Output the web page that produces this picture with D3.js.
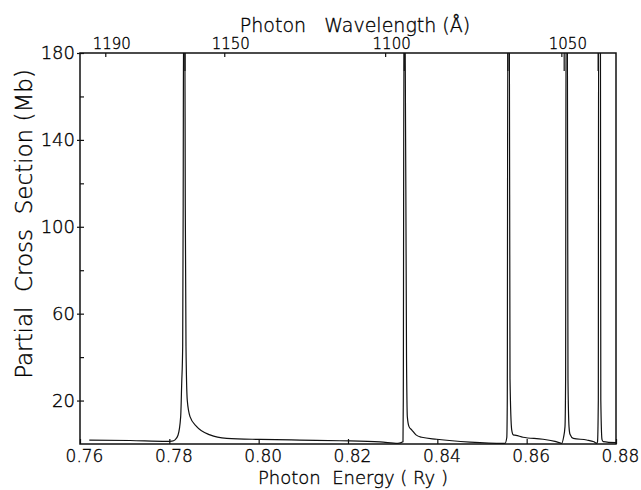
<!DOCTYPE html>
<html>
<head>
<meta charset="utf-8">
<script src="https://cdn.jsdelivr.net/npm/d3@7"></script>
<style>
body { margin: 0; background: #fff; }
text { font-family: "DejaVu Sans", sans-serif; font-weight: 200; fill: #000; stroke: #000; stroke-width: 0.35; }
</style>
</head>
<body>
<div id="chart"></div>
<script>
// photon energy (Ry) and partial cross section (Mb)
var energy = [0.76208, 0.77119, 0.77941, 0.78060, 0.78127, 0.78194, 0.78254, 0.78277, 0.78299, 0.78310, 0.78319,
    0.78346, 0.78357, 0.78373, 0.78402, 0.78463, 0.78613, 0.78910, 0.79284, 0.80030, 0.80925, 0.81821, 0.82716,
    0.83119, 0.83231, 0.83238, 0.83254, 0.83276, 0.83310, 0.83328, 0.83366, 0.83426, 0.83522, 0.83650, 0.83986,
    0.84731, 0.85470, 0.85515, 0.85555, 0.85566, 0.85578, 0.85611, 0.85627, 0.85665, 0.85701, 0.85761, 0.85918,
    0.86366, 0.86634, 0.86746, 0.86784, 0.86825, 0.86858, 0.86872, 0.86881, 0.86910, 0.86925, 0.86948, 0.86970,
    0.87044, 0.87344, 0.87507, 0.87568, 0.87586, 0.87604, 0.87610, 0.87651, 0.87660, 0.87687, 0.87716, 0.88000];
var sigma = [1.8, 1.6, 1.2, 1.3, 1.9, 4, 12.6, 28, 45, 110, 200,
    200, 110, 45, 20, 12.6, 8, 4.2, 2.6, 2.1, 1.8, 1.5, 1.0,
    0.3, 1.0, 20, 200, 200, 40, 12.6, 8, 6.5, 4.2, 3.1, 2.2,
    0.9, 0.3, 0.3, 3, 20, 200, 200, 30, 6.5, 4.2, 4, 3.1,
    2.2, 1.2, 0.5, 0.3, 3, 8, 30, 200, 200, 30, 8, 4.5,
    2.6, 1.85, 1.0, 0.3, 1, 20, 200, 200, 20, 2, 1.1, 0.6];

var energyTicks = [0.76, 0.78, 0.80, 0.82, 0.84, 0.86, 0.88];
var sigmaTicks = [20, 60, 100, 140, 180];
var sigmaMinor = [40, 80, 120, 160];
var wavelengthTicks = [1190, 1150, 1100, 1050];
var resonances = [0.7835, 0.8326, 0.8558, 0.8684, 0.8760];
var RY_ANGSTROM = 911.27; // lambda (A) = 911.27 / E (Ry)

var width = 641, height = 490;
var margin = {top: 53, right: 25, bottom: 46, left: 80};

var svg = d3.select("#chart").append("svg")
    .attr("width", width)
    .attr("height", height);

var x = d3.scaleLinear().domain([0.76, 0.88]).range([margin.left, width - margin.right]);
var y = d3.scaleLinear().domain([0, 180]).range([height - margin.bottom, margin.top]);

svg.append("clipPath").attr("id", "plotClip")
    .append("rect")
    .attr("x", x(0.76)).attr("y", y(180))
    .attr("width", x(0.88) - x(0.76))
    .attr("height", y(0) - y(180));

var pts = energy.map(function(e, i) { return [e, sigma[i]]; });
var line = d3.line()
    .x(function(d) { return x(d[0]); })
    .y(function(d) { return y(d[1]); })
    .curve(d3.curveMonotoneX);

svg.append("path")
    .datum(pts)
    .attr("clip-path", "url(#plotClip)")
    .attr("d", line)
    .attr("fill", "none")
    .attr("stroke", "#111")
    .attr("stroke-width", 1.2);

function styleAxis(g) {
    g.select(".domain").remove();
    g.selectAll("line").attr("stroke", "#111").attr("stroke-width", 1.2);
}

// bottom axis, ticks pointing in
svg.append("g")
    .attr("transform", "translate(0," + y(0) + ")")
    .call(d3.axisBottom(x).tickValues(energyTicks).tickSize(-5).tickPadding(6)
        .tickFormat(d3.format(".2f")))
    .call(styleAxis)
    .selectAll("text")
    .attr("font-size", 17)
    .attr("dx", 4);

// left axis: labelled ticks cross the line, minor ones point in
svg.append("g")
    .attr("transform", "translate(" + x(0.76) + ",0)")
    .call(d3.axisLeft(y).tickValues(sigmaTicks).tickSize(3).tickPadding(2))
    .call(styleAxis)
    .selectAll("text")
    .attr("font-size", 18);
svg.append("g")
    .attr("transform", "translate(" + x(0.76) + ",0)")
    .call(d3.axisLeft(y).tickValues(sigmaTicks.concat(sigmaMinor)).tickSize(-4).tickFormat(""))
    .call(styleAxis);

// top axis in wavelength
var wl = function(l) { return x(RY_ANGSTROM / l); };
var topAxis = svg.append("g").attr("transform", "translate(0," + y(180) + ")");
topAxis.selectAll("line.wl")
    .data(wavelengthTicks)
    .enter().append("line")
    .attr("class", "wl")
    .attr("x1", wl).attr("x2", wl)
    .attr("y1", 0).attr("y2", 4)
    .attr("stroke", "#111").attr("stroke-width", 1.2);
topAxis.selectAll("text")
    .data(wavelengthTicks)
    .enter().append("text")
    .attr("x", function(d) { return wl(d) + 6; })
    .attr("y", -4)
    .attr("text-anchor", "middle")
    .attr("font-size", 15)
    .text(function(d) { return d; });
// resonance markers
topAxis.selectAll("line.res")
    .data(resonances)
    .enter().append("line")
    .attr("class", "res")
    .attr("x1", function(d) { return x(d); }).attr("x2", function(d) { return x(d); })
    .attr("y1", 0).attr("y2", 18)
    .attr("stroke", "#111").attr("stroke-width", 1.2);

// frame
svg.append("rect")
    .attr("x", x(0.76)).attr("y", y(180))
    .attr("width", x(0.88) - x(0.76))
    .attr("height", y(0) - y(180))
    .attr("fill", "none")
    .attr("stroke", "#111")
    .attr("stroke-width", 1.5);

// titles
svg.append("text")
    .attr("x", 353).attr("y", 484)
    .attr("text-anchor", "middle")
    .attr("font-size", 18)
    .style("white-space", "pre")
    .text("Photon  Energy ( Ry )");

svg.append("text")
    .attr("x", 355).attr("y", 32)
    .attr("text-anchor", "middle")
    .attr("font-size", 19)
    .style("white-space", "pre")
    .text("Photon   Wavelength (Å)");

svg.append("text")
    .attr("transform", "translate(32,224) rotate(-90)")
    .attr("text-anchor", "middle")
    .attr("font-size", 23)
    .style("white-space", "pre")
    .text("Partial  Cross  Section (Mb)");
</script>
</body>
</html>
